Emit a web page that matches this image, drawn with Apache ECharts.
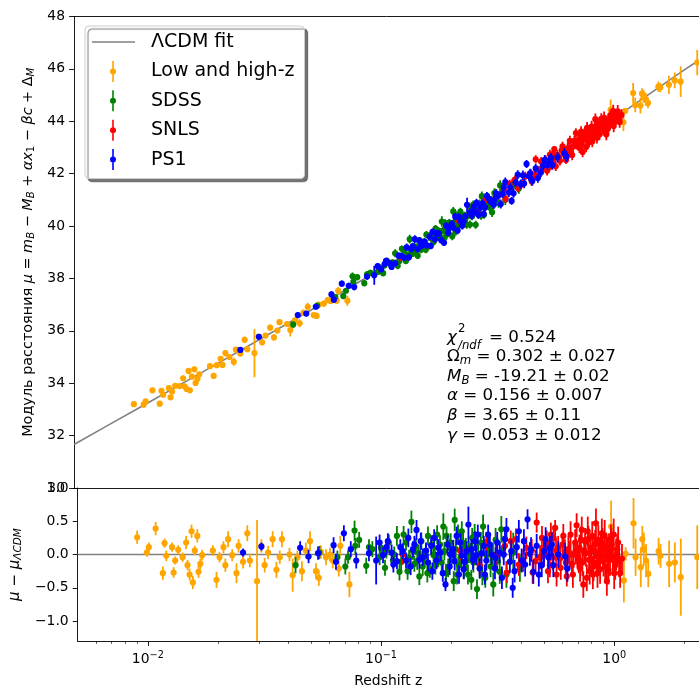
<!DOCTYPE html>
<html><head><meta charset="utf-8">
<script src="https://cdn.jsdelivr.net/npm/echarts@6/dist/echarts.min.js"></script>
<style>html,body{margin:0;padding:0;background:#fff}#c{width:699px;height:689px}</style>
</head><body><div id="c"></div>
<script>
// ---------- data ----------
const lowHighZ = [0.0090,0.0099,0.0101,0.0108,0.0116,0.0118,0.0120,0.0127,0.0129,0.0131,0.0135,0.0141,0.0146,0.0148,0.0151,0.0154,0.0156,0.0159,0.0163,0.0165,0.0168,0.0171,0.0190,0.0197,0.0203,0.0211,0.0215,0.0221,0.0230,0.0240,0.0245,0.0256,0.0267,0.0274,0.0294,0.0307,0.0317,0.0328,0.0343,0.0356,0.0368,0.0376,0.0405,0.0418,0.0438,0.0458,0.0476,0.0496,0.0526,0.0541,0.0552,0.0581,0.0604,0.0621,0.0659,0.0669,0.0732,
  0.936,0.97,1.02,1.10,1.12,1.21,1.235,1.30,1.32,1.34,1.37,1.40,1.55,1.58,1.72,1.82,1.93,2.27];
const lowHighMu = [33.20,33.18,33.31,33.73,33.22,33.71,33.56,33.81,33.46,33.68,33.90,33.89,34.19,33.88,33.78,34.47,33.73,34.25,34.53,34.01,34.17,34.34,34.65,34.28,34.69,34.93,34.70,35.15,35.00,34.82,35.28,35.13,35.66,35.30,35.15,35.78,35.56,35.82,36.12,35.75,36.01,36.33,36.26,36.03,36.40,36.29,36.69,36.92,36.60,36.57,37.00,37.04,37.17,37.14,37.15,37.53,37.15,
  43.63,44.44,44.22,43.96,44.40,45.08,44.62,44.60,45.06,44.95,44.84,44.70,45.32,45.29,45.39,45.56,45.51,46.24];
const lowHighRes = [0.26,0.03,0.11,0.39,-0.28,0.17,-0.02,0.11,-0.27,-0.09,0.07,-0.04,0.18,-0.16,-0.30,0.35,-0.42,0.06,0.28,-0.26,-0.14,-0.01,0.06,-0.38,-0.04,0.11,-0.16,0.23,-0.01,-0.28,0.13,-0.11,0.32,-0.09,-0.40,0.13,-0.16,0.03,0.23,-0.23,-0.04,0.23,0.00,-0.31,-0.04,-0.25,0.06,0.20,-0.25,-0.35,0.04,-0.04,0.00,-0.09,-0.21,0.13,-0.45,
  -0.29,0.42,0.07,-0.39,0.01,0.47,-0.04,-0.19,0.23,0.08,-0.09,-0.29,0.05,-0.02,-0.14,-0.12,-0.34,-0.04];
const lowHighErr = [0.10,0.06,0.07,0.10,0.10,0.07,0.08,0.07,0.08,0.06,0.07,0.07,0.10,0.08,0.09,0.10,0.10,0.07,0.10,0.09,0.08,0.08,0.08,0.12,0.08,0.09,0.10,0.12,0.09,0.15,0.10,0.10,0.12,0.10,0.92,0.10,0.11,0.10,0.12,0.12,0.10,0.12,0.10,0.25,0.10,0.15,0.12,0.15,0.12,0.12,0.10,0.12,0.10,0.12,0.12,0.15,0.19,
  0.10,0.39,0.10,0.33,0.10,0.38,0.28,0.30,0.20,0.25,0.25,0.20,0.20,0.18,0.35,0.30,0.58,0.48];

const sdssZ = [0.0430,0.0544,0.0650,0.0703,0.0722,0.0770,0.0776,0.0806,0.0864,0.0888,0.0918,0.0986,0.1055,0.108,0.1125,0.117,0.120,0.122,0.128,0.132,0.135,0.139,0.141,0.145,0.146,0.151,0.156,0.159,0.162,0.168,0.171,0.176,0.179,0.185,0.190,0.191,0.197,0.201,0.207,0.212,0.216,0.222,0.225,0.233,0.238,0.244,0.246,0.256,0.258,0.265,0.274,0.280,0.283,0.290,0.302,0.303,0.323,0.328,0.369,0.394,
  0.100,0.104,0.114,0.125,0.130,0.137,0.143,0.149,0.153,0.158,0.165,0.170,0.174,0.182,0.187,0.194,0.199,0.205,0.209,0.214,0.219,0.227,0.231,0.236,0.241,0.249,0.252,0.261,0.268,0.272,0.287,0.295,0.310,0.315,0.335,0.345];
const sdssMu = [36.24,36.96,37.29,37.33,37.53,38.08,37.87,38.05,37.82,38.16,38.21,38.25,38.50,38.67,38.49,38.96,38.48,38.67,39.06,38.90,39.50,38.94,39.23,39.21,38.87,39.10,39.40,39.67,39.22,39.51,39.40,39.57,39.82,40.17,39.54,40.12,40.02,39.96,40.56,39.79,39.97,40.55,40.41,40.23,40.42,40.06,40.71,40.67,40.05,40.43,41.14,40.43,40.79,41.02,40.98,40.53,40.88,41.55,41.50,41.43,
  38.42,38.20,38.61,39.13,38.67,39.09,39.05,39.45,39.26,39.10,39.63,39.55,39.90,39.59,39.83,39.68,40.13,39.61,40.14,40.41,40.12,40.03,40.40,40.05,40.42,40.37,40.82,40.55,40.85,40.40,40.89,40.73,41.26,40.97,41.33,41.00];
const sdssRes = [-0.16,0.03,-0.04,-0.18,-0.04,0.36,0.13,0.22,-0.17,0.11,0.08,-0.04,0.06,0.18,-0.09,0.28,-0.26,-0.11,0.18,-0.05,0.49,-0.14,0.12,0.03,-0.33,-0.18,0.05,0.28,-0.22,-0.01,-0.16,-0.06,0.15,0.42,-0.28,0.28,0.10,-0.01,0.52,-0.30,-0.16,0.35,0.18,-0.09,0.05,-0.38,0.25,0.11,-0.52,-0.21,0.42,-0.35,-0.01,0.15,0.00,-0.45,-0.26,0.38,0.03,-0.21,
  0.10,-0.20,0.00,0.30,-0.25,0.05,-0.10,0.20,-0.05,-0.28,0.15,0.00,0.30,-0.12,0.05,-0.20,0.18,-0.40,0.08,0.30,-0.05,-0.22,0.10,-0.30,0.02,-0.12,0.30,-0.05,0.18,-0.30,0.05,-0.18,0.22,-0.10,0.10,-0.30];
const sdssErr = [0.12,0.10,0.10,0.12,0.10,0.15,0.12,0.12,0.12,0.12,0.12,0.12,0.12,0.12,0.12,0.15,0.13,0.12,0.12,0.12,0.17,0.12,0.12,0.12,0.13,0.14,0.12,0.14,0.13,0.14,0.14,0.13,0.14,0.20,0.14,0.14,0.14,0.14,0.17,0.15,0.14,0.15,0.15,0.15,0.15,0.15,0.15,0.15,0.15,0.15,0.18,0.15,0.15,0.15,0.18,0.18,0.18,0.20,0.30,0.20,
  0.12,0.12,0.12,0.13,0.13,0.13,0.13,0.13,0.13,0.14,0.14,0.14,0.14,0.14,0.14,0.14,0.14,0.15,0.15,0.15,0.15,0.15,0.15,0.15,0.15,0.15,0.16,0.16,0.16,0.16,0.16,0.16,0.18,0.18,0.18,0.20];

const snlsZ = [0.124,0.218,0.265,0.283,0.313,0.340,0.346,0.379,0.407,0.443,0.447,0.465,0.481,0.514,0.520,0.530,0.550,0.558,0.563,0.566,0.586,0.600,0.605,0.626,0.636,0.645,0.658,0.670,0.680,0.690,0.695,0.710,0.714,0.726,0.737,0.743,0.750,0.763,0.775,0.785,0.796,0.815,0.829,0.835,0.848,0.860,0.865,0.885,0.890,0.900,0.924,0.930,0.945,0.950,0.968,0.987,1.01,1.03,1.06,1.08,
  0.36,0.39,0.42,0.46,0.49,0.50,0.535,0.545,0.575,0.59,0.615,0.62,0.65,0.665,0.685,0.705,0.72,0.73,0.755,0.77,0.78,0.79,0.805,0.81,0.82,0.84,0.855,0.87,0.875,0.895,0.91,0.915,0.935,0.96,0.975,0.995,1.00,1.02,1.04,1.05];
const snlsMu = [38.81,40.22,40.48,40.99,41.05,41.39,41.04,41.77,41.63,42.01,41.70,42.55,42.12,42.51,42.11,42.24,42.75,42.94,42.62,42.28,42.61,42.89,43.04,42.52,42.97,42.93,42.84,43.03,43.25,43.55,43.12,43.29,42.99,43.61,42.83,43.36,43.53,43.02,43.64,43.20,43.43,43.37,43.74,44.08,43.37,43.64,43.74,44.09,43.97,43.71,44.00,43.50,43.72,44.06,44.24,44.02,43.97,44.25,43.97,44.24,
  41.61,41.46,41.90,41.94,42.46,42.26,42.73,42.43,42.72,42.49,42.85,42.70,43.25,42.71,43.14,43.09,43.44,43.14,43.36,43.75,43.35,43.57,43.80,43.23,43.61,43.51,43.90,43.50,43.86,43.78,44.13,43.68,43.94,43.91,44.18,44.39,43.82,44.15,44.38,44.12];
const snlsRes = [0.00,0.06,-0.16,0.19,-0.01,0.13,-0.27,0.23,-0.09,0.06,-0.27,0.48,-0.04,0.18,-0.25,-0.16,0.25,0.40,0.06,-0.30,-0.06,0.15,0.28,-0.33,0.08,0.00,-0.14,0.00,0.18,0.44,-0.01,0.10,-0.21,0.37,-0.45,0.06,0.20,-0.35,0.23,-0.25,-0.06,-0.18,0.15,0.47,-0.28,-0.05,0.03,0.32,0.18,-0.11,0.11,-0.40,-0.23,0.10,0.23,-0.04,-0.16,0.08,-0.28,-0.06,
  0.20,-0.15,0.10,-0.10,0.25,0.00,0.30,-0.05,0.10,-0.20,0.05,-0.12,0.30,-0.30,0.05,-0.08,0.22,-0.12,0.02,0.35,-0.08,0.10,0.28,-0.30,0.05,-0.12,0.22,-0.22,0.12,-0.02,0.28,-0.18,0.02,-0.08,0.15,0.30,-0.28,0.00,0.18,-0.10];
const snlsErr = [0.15,0.15,0.15,0.15,0.15,0.15,0.16,0.16,0.17,0.17,0.17,0.15,0.18,0.18,0.18,0.18,0.17,0.12,0.18,0.18,0.18,0.18,0.18,0.15,0.20,0.20,0.20,0.20,0.20,0.18,0.20,0.20,0.20,0.20,0.20,0.20,0.20,0.20,0.20,0.20,0.20,0.22,0.22,0.22,0.22,0.22,0.22,0.22,0.22,0.22,0.22,0.22,0.22,0.22,0.22,0.22,0.22,0.22,0.22,0.22,
  0.16,0.17,0.17,0.17,0.18,0.18,0.18,0.18,0.18,0.18,0.18,0.19,0.20,0.20,0.20,0.20,0.20,0.20,0.20,0.22,0.20,0.20,0.22,0.22,0.22,0.22,0.22,0.22,0.22,0.22,0.24,0.24,0.24,0.24,0.24,0.24,0.24,0.24,0.24,0.24];

const ps1Z = [0.0256,0.0307,0.0450,0.0489,0.0537,0.0626,0.0641,0.0693,0.0742,0.0783,0.0888,0.0953,0.0986,0.102,0.1055,0.111,0.117,0.121,0.128,0.131,0.137,0.142,0.148,0.151,0.156,0.164,0.166,0.173,0.180,0.189,0.197,0.198,0.204,0.211,0.216,0.222,0.229,0.237,0.244,0.256,0.260,0.265,0.276,0.283,0.293,0.308,0.310,0.323,0.330,0.340,0.357,0.367,0.382,0.390,0.401,0.425,0.435,0.450,0.465,0.489,0.508,0.522,0.540,0.548,0.576,0.616,0.630,
  0.107,0.113,0.124,0.134,0.139,0.146,0.159,0.169,0.176,0.184,0.193,0.207,0.219,0.226,0.233,0.248,0.253,0.270,0.279,0.288,0.298,0.315,0.336,0.345,0.362,0.374,0.410,0.415,0.440,0.475,0.500,0.530];
const ps1Mu = [35.27,35.77,36.60,36.66,36.92,37.39,37.19,37.80,37.72,37.67,38.07,38.12,38.47,38.35,38.55,38.58,38.58,38.87,38.79,39.19,39.12,39.50,39.44,39.24,39.41,39.59,39.24,39.50,39.71,39.36,39.74,39.93,40.08,40.36,39.83,40.19,40.16,40.81,40.52,40.55,40.89,40.43,40.87,40.71,41.05,40.81,40.99,41.17,40.84,41.49,41.28,40.96,41.67,41.96,41.60,42.37,41.91,41.73,42.20,42.04,42.53,42.33,42.60,42.33,42.63,42.78,42.65,
  38.67,38.44,38.86,38.81,39.23,39.12,39.27,39.78,39.73,39.46,40.01,39.94,40.35,40.02,40.37,40.40,40.73,40.70,40.47,41.15,40.94,41.25,41.23,41.68,41.47,41.25,41.94,41.62,42.01,41.83,42.31,42.50];
const ps1Res = [0.03,0.12,0.10,-0.03,0.02,0.14,-0.11,0.32,0.08,-0.09,0.02,-0.09,0.18,-0.01,0.11,0.03,-0.10,0.11,-0.09,0.25,0.08,0.37,0.20,-0.04,0.06,0.13,-0.25,-0.09,0.03,-0.45,-0.18,0.00,0.08,0.28,-0.30,-0.01,-0.11,0.45,0.08,-0.01,0.30,-0.21,0.13,-0.09,0.15,-0.21,-0.05,0.03,-0.35,0.23,-0.11,-0.50,0.11,0.35,-0.09,0.53,0.01,-0.26,0.13,-0.16,0.23,-0.04,0.15,-0.16,0.00,-0.03,-0.21,
  0.20,-0.15,0.05,-0.18,0.15,-0.08,-0.12,0.25,0.10,-0.28,0.15,-0.10,0.18,-0.22,0.05,-0.08,0.20,0.02,-0.30,0.30,0.00,0.18,0.00,0.38,0.05,-0.25,0.20,-0.15,0.08,-0.30,0.05,0.10];
const ps1Err = [0.06,0.06,0.10,0.10,0.10,0.12,0.12,0.12,0.12,0.12,0.12,0.36,0.12,0.12,0.12,0.12,0.12,0.12,0.12,0.14,0.12,0.15,0.13,0.13,0.12,0.13,0.13,0.13,0.13,0.10,0.13,0.13,0.14,0.14,0.14,0.14,0.15,0.27,0.15,0.15,0.15,0.15,0.15,0.15,0.15,0.16,0.16,0.16,0.17,0.17,0.17,0.15,0.17,0.17,0.18,0.15,0.18,0.18,0.18,0.18,0.18,0.18,0.18,0.18,0.20,0.20,0.20,
  0.12,0.12,0.12,0.13,0.13,0.13,0.13,0.13,0.13,0.13,0.14,0.14,0.14,0.15,0.15,0.15,0.15,0.15,0.15,0.15,0.15,0.16,0.16,0.17,0.17,0.17,0.18,0.18,0.18,0.18,0.18,0.18];

// LambdaCDM fit curve
const fitZ  = [0.005,0.007,0.01,0.015,0.02,0.03,0.05,0.07,0.1,0.15,0.2,0.3,0.4,0.5,0.7,1.0,1.5,2.0,2.31];
const fitMu = [31.66,32.40,33.18,34.07,34.70,35.60,36.74,37.50,38.32,39.27,39.96,40.96,41.68,42.26,43.15,44.10,45.19,45.96,46.33];

const xMajorExp = [-2,-1,0];
const resTicks = [-1.0,-0.5,0.0,0.5,1.0];

// ---------- chart ----------
const FONT = 'DejaVu Sans';
const XMIN = Math.log10(0.005), XMAX = Math.log10(2.31);
const minorTicks = [];
for (let e = -3; e <= 0; e++) for (let k = 2; k <= 9; k++) {
  const v = Math.log10(k) + e; if (v > XMIN && v < XMAX) minorTicks.push(v);
}
const pts = (z, y, e) => z.map((v, i) => [Math.log10(v), y[i], e[i]]);

function errRender(color) {
  return function (params, api) {
    const x = api.value(0), y = api.value(1), e = api.value(2);
    const p = api.coord([x, y]), a = api.coord([x, y + e]), b = api.coord([x, y - e]);
    return { type: 'group', children: [
      { type: 'line', shape: { x1: p[0], y1: a[1], x2: p[0], y2: b[1] }, style: { stroke: color, lineWidth: 1.8 } },
      { type: 'circle', shape: { cx: p[0], cy: p[1], r: 3.1 }, style: { fill: color } }
    ] };
  };
}
const groups = [
  { name: 'Low and high-z', color: '#FFA500', z: lowHighZ, mu: lowHighMu, res: lowHighRes, err: lowHighErr },
  { name: 'SDSS', color: '#008000', z: sdssZ, mu: sdssMu, res: sdssRes, err: sdssErr },
  { name: 'SNLS', color: '#FF0000', z: snlsZ, mu: snlsMu, res: snlsRes, err: snlsErr },
  { name: 'PS1', color: '#0000FF', z: ps1Z, mu: ps1Mu, res: ps1Res, err: ps1Err }
];

const series = [];
series.push({ name: 'ΛCDM fit', type: 'line', xAxisIndex: 0, yAxisIndex: 0, data: fitZ.map((z, i) => [Math.log10(z), fitMu[i]]),
  showSymbol: false, symbol: 'none', lineStyle: { color: '#808080', width: 1.6 }, itemStyle: { color: '#808080' }, z: 1, silent: true });
groups.forEach(g => series.push({ name: g.name, type: 'custom', xAxisIndex: 0, yAxisIndex: 0, clip: true,
  itemStyle: { color: g.color }, encode: { x: 0, y: 1 }, data: pts(g.z, g.mu, g.err), renderItem: errRender(g.color), z: 2 }));
series.push({ name: 'zero', type: 'line', xAxisIndex: 2, yAxisIndex: 1, data: [[XMIN, 0], [XMAX, 0]],
  showSymbol: false, symbol: 'none', lineStyle: { color: '#808080', width: 1.6 }, z: 1, silent: true });
groups.forEach(g => series.push({ name: g.name, type: 'custom', xAxisIndex: 2, yAxisIndex: 1, clip: true,
  itemStyle: { color: g.color }, encode: { x: 0, y: 1 }, data: pts(g.z, g.res, g.err), renderItem: errRender(g.color), z: 2 }));

const axisLine = { show: true, onZero: false, lineStyle: { color: '#000', width: 0.9 } };
const lineIcon = 'path://M0,0L0,0M54,22L54,22M0,10.2L43,10.2L43,11.8L0,11.8Z';
const errIcon = 'path://M0,0L0,0M54,22L54,22M20.2,0.5L21.8,0.5L21.8,21.5L20.2,21.5Z M21,8A3,3 0 1 1 21,14A3,3 0 1 1 21,8Z';

const TF = 14.4, TS = 10.1;
const subPad = [6, 0, 0, 0];
const titleRich = {
  n: { fontFamily: FONT, fontSize: TF, color: '#000' },
  i: { fontFamily: FONT, fontSize: TF, fontStyle: 'italic', color: '#000' },
  s: { fontFamily: FONT, fontSize: TS, fontStyle: 'italic', color: '#000', padding: subPad },
  u: { fontFamily: FONT, fontSize: TS, color: '#000', padding: subPad }
};
const option = {
  animation: false,
  backgroundColor: '#fff',
  textStyle: { fontFamily: FONT },
  grid: [
    { left: 74, top: 16.5, right: 0, height: 471.5 },
    { left: 74, top: 488, right: 0, height: 156.4 }
  ],
  xAxis: [
    { type: 'value', gridIndex: 0, min: XMIN, max: XMAX, position: 'bottom', axisLine, axisTick: { show: false }, axisLabel: { show: false }, splitLine: { show: false } },
    { type: 'value', gridIndex: 0, min: XMIN, max: XMAX, position: 'top', axisLine, axisTick: { show: false }, axisLabel: { show: false }, splitLine: { show: false } },
    { type: 'value', gridIndex: 1, min: XMIN, max: XMAX, position: 'bottom', axisLine,
      axisTick: { show: true, length: 4.9, lineStyle: { color: '#000', width: 0.9 }, customValues: xMajorExp },
      axisLabel: { show: true, margin: 9, customValues: xMajorExp, color: '#000',
        formatter: v => { const n = Math.round(v); return '{b|10}{s|' + (n < 0 ? '\u2212' + (-n) : n) + '}'; },
        rich: { b: { fontFamily: FONT, fontSize: 13.9, color: '#000' }, s: { fontFamily: FONT, fontSize: 9.7, color: '#000', padding: [0, 0, 9, 0] } } },
      splitLine: { show: false },
      name: 'Redshift z', nameLocation: 'middle', nameGap: 33, nameTextStyle: { fontFamily: FONT, fontSize: 13.9, color: '#000' } },
    { type: 'value', gridIndex: 1, min: XMIN, max: XMAX, position: 'bottom', axisLine: { show: false, onZero: false },
      axisTick: { show: true, length: 2.8, lineStyle: { color: '#000', width: 0.7 }, customValues: minorTicks },
      axisLabel: { show: false }, splitLine: { show: false } }
  ],
  yAxis: [
    { type: 'value', gridIndex: 0, min: 30, max: 48, interval: 2, axisLine,
      axisTick: { show: true, length: 4.9, lineStyle: { color: '#000', width: 0.9 } },
      axisLabel: { margin: 9, color: '#000', fontFamily: FONT, fontSize: 13.9 }, splitLine: { show: false },
      name: '{n|Модуль расстояния }{i|μ}{n| = }{i|m}{s|B}{n| − }{i|M}{s|B}{n| + }{i|αx}{u|1}{n| − }{i|βc}{n| + Δ}{s|M}',
      nameLocation: 'middle', nameGap: 23,
      nameTextStyle: { fontFamily: FONT, fontSize: TF, color: '#000', rich: titleRich } },
    { type: 'value', gridIndex: 1, min: -1.3, max: 1.0, axisLine,
      axisTick: { show: true, length: 4.9, lineStyle: { color: '#000', width: 0.9 }, customValues: resTicks },
      axisLabel: { margin: 9, color: '#000', fontFamily: FONT, fontSize: 13.9, customValues: resTicks,
        formatter: v => (v < 0 ? '\u2212' : '') + Math.abs(v).toFixed(1) }, splitLine: { show: false },
      name: '{i|μ}{n| − }{i|μ}{s|ΛCDM}', nameLocation: 'middle', nameGap: 48,
      nameTextStyle: { fontFamily: FONT, fontSize: 15, color: '#000', rich: {
        n: { fontFamily: FONT, fontSize: 15, color: '#000' },
        i: { fontFamily: FONT, fontSize: 15, fontStyle: 'italic', color: '#000' },
        s: { fontFamily: FONT, fontSize: 10.5, fontStyle: 'italic', color: '#000', padding: subPad } } } }
  ],
  legend: {
    orient: 'vertical', left: 85, top: 26, itemWidth: 54, itemHeight: 22, itemGap: 7.4,
    padding: [5, 10, 8, 7], backgroundColor: '#ffffff', borderColor: '#cccccc', borderWidth: 1, borderRadius: 4,
    shadowColor: 'rgba(0,0,0,0.55)', shadowBlur: 1, shadowOffsetX: 3, shadowOffsetY: 3,
    textStyle: { fontFamily: FONT, fontSize: 19, color: '#000' },
    itemStyle: { borderWidth: 0 }, selectedMode: false,
    data: [
      { name: 'ΛCDM fit', icon: lineIcon },
      { name: 'Low and high-z', icon: errIcon },
      { name: 'SDSS', icon: errIcon },
      { name: 'SNLS', icon: errIcon },
      { name: 'PS1', icon: errIcon }
    ]
  },
  graphic: (function () {
    const F = 16.7, S = 11.7;
    const rich = {
      u: { fontFamily: FONT, fontSize: F, fill: '#000' },
      i: { fontFamily: FONT, fontSize: F, fontStyle: 'italic', fill: '#000' },
      s: { fontFamily: FONT, fontSize: S, fontStyle: 'italic', fill: '#000', padding: [7, 0, 0, 0] }
    };
    const line = (t, y) => ({ type: 'text', x: 447, y: y, silent: true, style: { text: t, rich: rich, fontFamily: FONT, fontSize: F, fill: '#000', verticalAlign: 'middle' } });
    return [
      { type: 'text', x: 447, y: 338, silent: true, style: { text: 'χ', fontFamily: FONT, fontSize: F, fontStyle: 'italic', fill: '#000', verticalAlign: 'middle' } },
      { type: 'text', x: 458, y: 329, silent: true, style: { text: '2', fontFamily: FONT, fontSize: S, fill: '#000', verticalAlign: 'middle' } },
      { type: 'text', x: 458, y: 346, silent: true, style: { text: '/ndf', fontFamily: FONT, fontSize: S, fontStyle: 'italic', fill: '#000', verticalAlign: 'middle' } },
      { type: 'text', x: 489, y: 338, silent: true, style: { text: '= 0.524', fontFamily: FONT, fontSize: F, fill: '#000', verticalAlign: 'middle' } },
      line('{u|Ω}{s|m}{u| = 0.302 ± 0.027}', 357),
      line('{i|M}{s|B}{u| = -19.21 ± 0.02}', 377),
      line('{i|α}{u| = 0.156 ± 0.007}', 396),
      line('{i|β}{u| = 3.65 ± 0.11}', 416),
      line('{i|γ}{u| = 0.053 ± 0.012}', 436)
    ];
  })(),
  series: series
};
const chart = echarts.init(document.getElementById('c'), null, { renderer: 'canvas' });
chart.setOption(option);
</script>
</body></html>
